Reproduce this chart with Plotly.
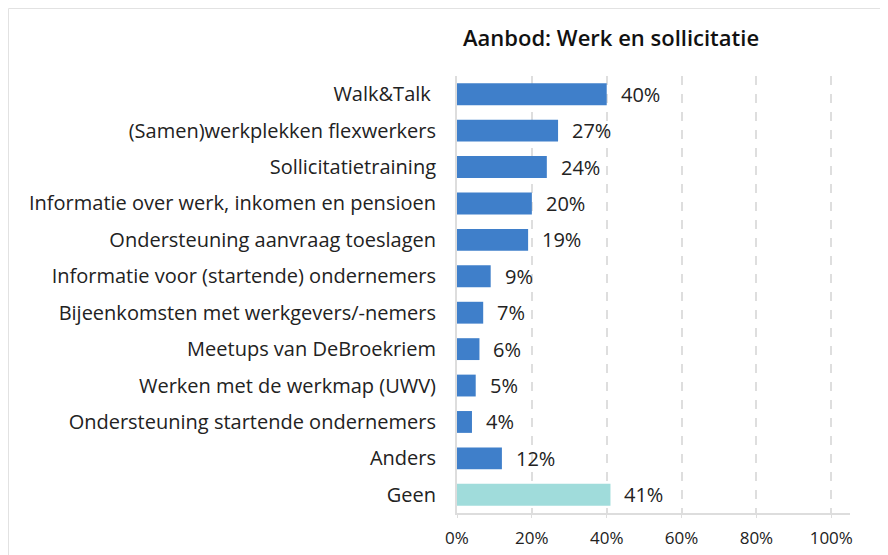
import plotly.graph_objects as go

categories = ["Walk&Talk ", "(Samen)werkplekken flexwerkers", "Sollicitatietraining",
              "Informatie over werk, inkomen en pensioen", "Ondersteuning aanvraag toeslagen",
              "Informatie voor (startende) ondernemers", "Bijeenkomsten met werkgevers/-nemers",
              "Meetups van DeBroekriem", "Werken met de werkmap (UWV)",
              "Ondersteuning startende ondernemers", "Anders", "Geen"]
values = [40, 27, 24, 20, 19, 9, 7, 6, 5, 4, 12, 41]
bar_colors = ["#3F7FCA"] * 11 + ["#A0DCDB"]
tick_vals = [0, 20, 40, 60, 80, 100]
tick_text = ["0%", "20%", "40%", "60%", "80%", "100%"]
title_text = "Aanbod: Werk en sollicitatie"

FONT = "Open Sans"

fig = go.Figure()
fig.add_trace(go.Bar(
    y=categories, x=values, orientation="h",
    marker=dict(color=bar_colors, line=dict(width=0)),
    width=0.6, hoverinfo="skip",
))

for c, v in zip(categories, values):
    fig.add_annotation(x=v, y=c, text=f"{v}%", showarrow=False, xanchor="left",
                       xshift=12, font=dict(family=FONT, size=20, color="#222222"))

# figure is drawn with an 8px page offset
L, R, T, B = 449, 46, 68, 50
W, H = 888, 555
pw, ph = W - L - R, H - T - B
fig.add_shape(type="rect", xref="paper", yref="paper",
              x0=(0.5 - L) / pw, x1=(W - L + 20) / pw,
              y0=-(B + 20) / ph, y1=1 + (T - 0.5) / ph,
              line=dict(color="#E2E2E2", width=1), fillcolor="rgba(0,0,0,0)", layer="below")

fig.update_layout(
    width=W, height=H,
    margin=dict(l=L, r=R, t=T, b=B, autoexpand=False),
    paper_bgcolor="white", plot_bgcolor="white",
    showlegend=False,
    title=dict(text=title_text, x=455 / W, xanchor="left", xref="container",
               y=1 - 30 / H, yanchor="middle", yref="container",
               font=dict(family=FONT, size=22, color="#111111", weight=600)),
    font=dict(family=FONT, color="#222222"),
)
fig.update_xaxes(range=[0, 105], tickvals=tick_vals, ticktext=tick_text,
                 showgrid=True, gridcolor="#DEDEDE", griddash="dash", gridwidth=1.5,
                 showline=True, linecolor="#DDDDDD", linewidth=2,
                 ticks="outside", ticklen=3, tickcolor="#DDDDDD",
                 ticklabelstandoff=6,
                 tickfont=dict(family=FONT, size=17, color="#222222"),
                 zeroline=False, fixedrange=True)
fig.update_yaxes(autorange="reversed", showgrid=False, showline=True,
                 linecolor="#DDDDDD", linewidth=2, ticks="",
                 ticklabelstandoff=15,
                 tickfont=dict(family=FONT, size=20, color="#222222"), fixedrange=True)

fig.write_html("out.html")
